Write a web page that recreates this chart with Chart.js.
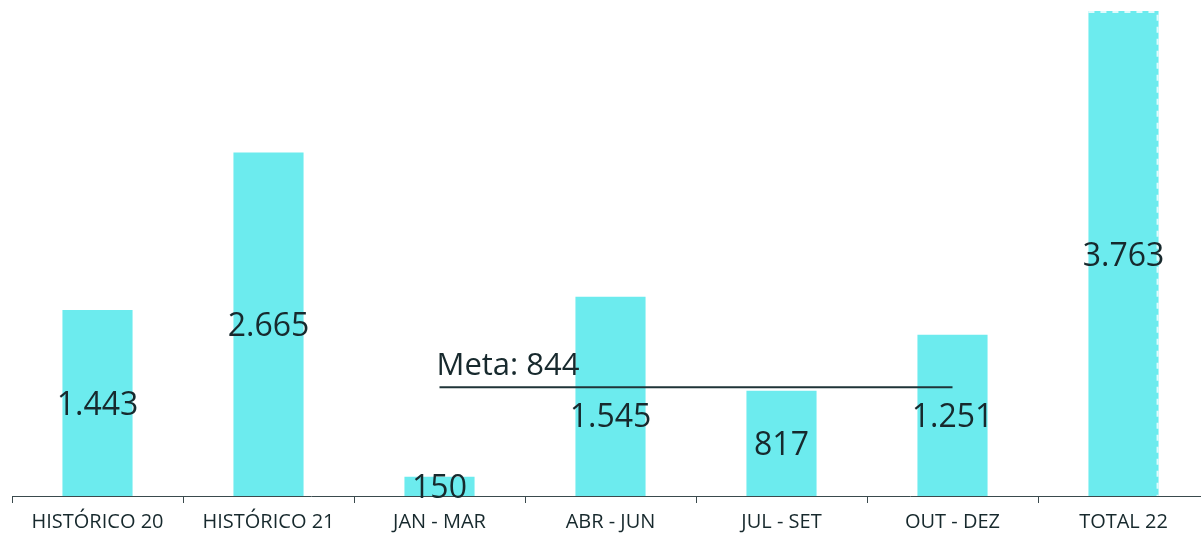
<!DOCTYPE html>
<html>
<head>
<meta charset="utf-8">
<script src="https://cdn.jsdelivr.net/npm/chart.js@4/dist/chart.umd.min.js"></script>
<style>
    html, body { margin: 0; padding: 0; background: #fff; overflow: hidden; }
    #wrap { width: 1209px; height: 533px; }
</style>
</head>
<body>
<div id="wrap"><canvas id="chart"></canvas></div>
<script>
// Values
const categories = ['HISTÓRICO 20', 'HISTÓRICO 21', 'JAN - MAR', 'ABR - JUN', 'JUL - SET', 'OUT - DEZ', 'TOTAL 22'];
const values = [1443, 2665, 150, 1545, 817, 1251, 3763];
const goalValue = 844;
const goalLine = [null, null, goalValue, goalValue, goalValue, goalValue, null];
const goalLabel = 'Meta: 844';

const barColor = '#6cebee';
const textColor = '#17292d';

function formatNumber(v) {
    return v.toLocaleString('de-DE');
}

// Value labels centred in each bar (pushed below the goal line if they'd hit it),
// plus the goal label over the line
const labelsPlugin = {
    id: 'valueLabels',
    afterDatasetsDraw(chart) {
        const ctx = chart.ctx;
        const bars = chart.getDatasetMeta(1).data;
        const goalPts = chart.getDatasetMeta(0).data;
        const firstIdx = goalLine.findIndex(v => v !== null);
        const goalY = goalPts[firstIdx].y;

        ctx.save();
        // dashed edge on the total bar
        const last = bars[bars.length - 1];
        const half = last.width / 2;
        ctx.strokeStyle = 'rgba(255,255,255,0.8)';
        ctx.lineWidth = 2;
        ctx.setLineDash([6, 6]);
        ctx.beginPath();
        ctx.moveTo(last.x - half, last.y + 1);
        ctx.lineTo(last.x + half - 1, last.y + 1);
        ctx.lineTo(last.x + half - 1, last.base);
        ctx.stroke();
        ctx.setLineDash([]);

        ctx.fillStyle = textColor;
        ctx.font = '32px "Open Sans"';
        ctx.textAlign = 'center';
        ctx.textBaseline = 'middle';
        bars.forEach((bar, i) => {
            let y = (bar.y + bar.base) / 2 + 3;
            if (goalLine[i] !== null && Math.abs(y - goalY) < 18) {
                y = goalY + 31;
            }
            ctx.fillText(formatNumber(values[i]), bar.x, y);
        });

        ctx.textAlign = 'left';
        ctx.textBaseline = 'alphabetic';
        ctx.font = '31px "Open Sans"';
        ctx.fillText(goalLabel, goalPts[firstIdx].x - 3, goalY - 12);
        ctx.restore();
    }
};

new Chart(document.getElementById('chart'), {
    data: {
        labels: categories,
        datasets: [{
            type: 'line',
            data: goalLine,
            borderColor: '#1f3438',
            borderWidth: 2,
            pointRadius: 0,
            spanGaps: false,
            order: 0
        }, {
            type: 'bar',
            data: values,
            backgroundColor: barColor,
            categoryPercentage: 1,
            barPercentage: 0.41,
            order: 1
        }]
    },
    options: {
        responsive: true,
        maintainAspectRatio: false,
        animation: false,
        layout: {padding: {left: 12, right: 0, top: 0, bottom: 0}},
        plugins: {
            legend: {display: false},
            tooltip: {enabled: false}
        },
        scales: {
            x: {
                offset: true,
                border: {color: '#3a4a4d', width: 1},
                grid: {
                    offset: true,
                    drawOnChartArea: false,
                    drawTicks: true,
                    tickLength: 7,
                    color: '#3a4a4d'
                },
                ticks: {
                    color: textColor,
                    font: {family: 'Open Sans', size: 20},
                    padding: 7,
                    maxRotation: 0,
                    autoSkip: false
                },
                afterFit: (axis) => { axis.height = 37; }
            },
            y: {
                display: false,
                min: 0,
                max: 3848
            }
        }
    },
    plugins: [labelsPlugin]
});
</script>
</body>
</html>
